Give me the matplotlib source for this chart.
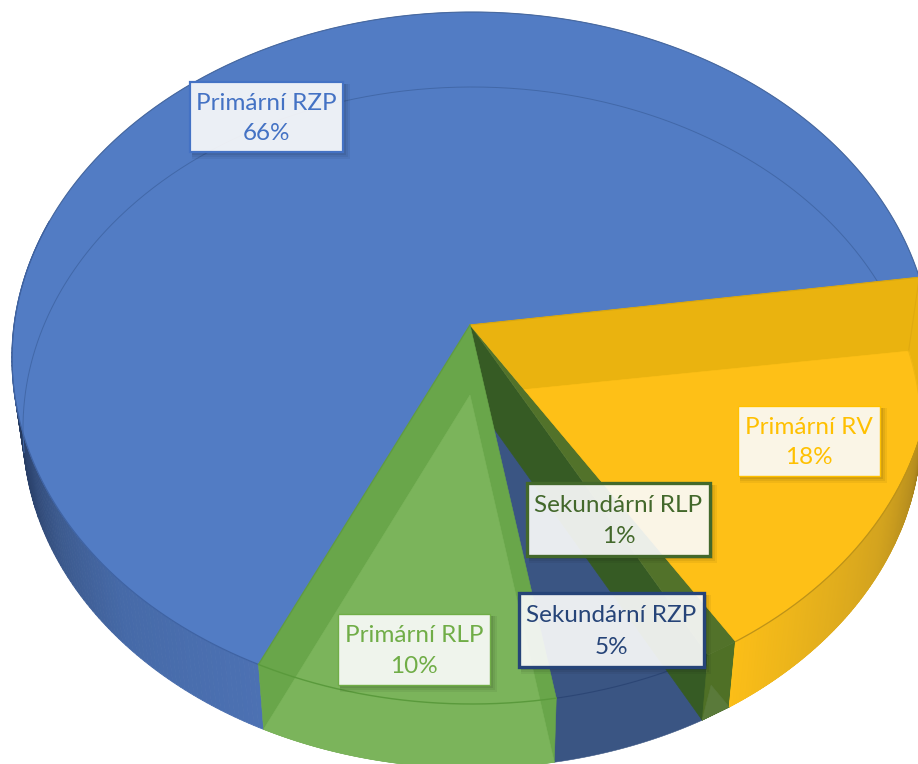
import numpy as np
import matplotlib
matplotlib.use("Agg")
import matplotlib.pyplot as plt
from matplotlib.patches import Polygon, Rectangle
from matplotlib.colors import to_rgb

# ---- data ----
categories = ["Primární RV", "Sekundární RLP", "Sekundární RZP", "Primární RLP", "Primární RZP"]
values = [18, 1, 5, 10, 66]
label_text = ["18%", "1%", "5%", "10%", "66%"]
text_colors = ["#FFC000", "#43682B", "#264478", "#70AD47", "#4472C4"]
edge_widths = [1.0, 2.4, 2.4, 1.0, 1.6]
boxes = [(738, 406, 880, 476), (527, 483, 710, 556), (519, 593, 704, 667),
         (338, 614, 490, 685), (190, 82, 343, 152)]

# ---- projection of the tilted pie (pixel space) ----
TOP = (472, 358, 460, 346)
BOT = (472, 430, 449, 338)
BACK = (472, 428, 449, 341)
APEX_TOP = (470, 325)
APEX_BOT = (470, 395)
START = 13.5

def angle(f):
    f = np.asarray(f, dtype=float)
    w = 2 * np.pi * f
    return np.radians(START - 360 * f - (0.295 * np.sin(w) + 5.62 * (1 - np.cos(w)) - 1.0 * np.sin(3 * w)))

def rim(f, e):
    t = angle(f)
    return np.column_stack([e[0] + e[2] * np.cos(t), e[1] - e[3] * np.sin(t)])

def arc(f0, f1, e, n=160):
    return rim(np.linspace(f0, f1, n), e)

cum = np.cumsum([0] + values) / 100.0
f_rv, f_slp, f_szp, f_plp = cum[1], cum[2], cum[3], cum[4]

fig = plt.figure(figsize=(9.18, 7.64), dpi=100)
ax = fig.add_axes([0, 0, 1, 1])
ax.set_xlim(0, 918)
ax.set_ylim(764, 0)
ax.axis("off")
plt.rcParams["font.family"] = ["Lato", "DejaVu Sans"]

def poly(pts, color, z, alpha=1.0, lw=0.0, ec=None):
    p = Polygon(pts, closed=True, fc=color, ec=ec if ec else color,
                lw=lw if lw else 0.4, alpha=alpha, zorder=z)
    ax.add_patch(p)
    return p

def gradient_wall(f0, f1, stops, z, n=120):
    fs = np.linspace(f0, f1, n + 1)
    p, q = rim(fs, TOP), rim(fs, BOT)
    xs = [s[0] for s in stops]
    cols = np.array([to_rgb(s[1]) for s in stops])
    for i in range(n):
        fm = (fs[i] + fs[i + 1]) / 2
        c = [np.interp(fm, xs, cols[:, k]) for k in range(3)]
        poly([p[i], p[i + 1], q[i + 1], q[i]], c, z, lw=0.6, ec=c)

# blue slice
gradient_wall(f_plp, f_plp + 0.23,
              [(f_plp, "#4C71B3"), (f_plp + 0.06, "#466AA8"), (f_plp + 0.10, "#3C5A8E"),
               (f_plp + 0.13, "#2E4672"), (f_plp + 0.17, "#223658"), (f_plp + 0.23, "#1E3050")], 1)
poly(np.vstack([[APEX_TOP], arc(f_plp, 1.0, TOP, 400)]), "#527CC4", 2)
ax.plot(*arc(f_plp + 0.14, 1.0, TOP, 300).T, color="#3E5E92", lw=0.8, zorder=3, alpha=0.8)
ax.plot(*arc(f_plp, f_plp + 0.23, TOP, 200).T, color="#3F63A3", lw=0.9, zorder=3)
ax.plot(*arc(f_plp + 0.155, 1.0, BACK, 300).T, color="#4268A8", lw=0.7, zorder=3)

# secondary RZP (navy)
poly(np.vstack([[APEX_TOP], rim([f_slp], BOT), arc(f_slp, f_szp, BOT)]), "#3A5583", 4)
ax.plot(*arc(f_slp, f_szp, TOP).T, color="#2C4675", lw=0.8, zorder=5)

# secondary RLP (dark green)
poly([APEX_TOP, rim([f_slp], TOP)[0], rim([f_slp], BOT)[0], APEX_BOT], "#365B24", 6)
poly(np.vstack([[APEX_TOP], rim([f_rv], BOT), rim([f_slp], BOT)]), "#365B24", 6)
poly(np.vstack([rim([f_rv], TOP), rim([f_rv], BOT), rim([f_slp], BOT), rim([f_slp], TOP)]), "#4F7026", 7)
poly(np.vstack([[APEX_TOP], arc(f_rv, f_slp, TOP, 10)]), "#52722A", 7)
inner_tip = np.array(APEX_BOT) + 0.93 * (rim([f_rv], BOT)[0] - np.array(APEX_BOT))
poly(np.vstack([rim([f_rv], BOT), rim([f_slp], BOT), [inner_tip]]), "#5A7A3A", 7)

# primary RV (yellow)
yellow_hull = np.vstack([[APEX_TOP], arc(0, 0.03, TOP, 30), arc(0.03, f_rv, BOT), rim([f_rv], TOP)])
poly(yellow_hull, "#EAB30F", 8)
face = poly(np.vstack([[APEX_BOT], arc(0, f_rv, BOT)]), "#FEC017", 9)
face.set_clip_path(Polygon(yellow_hull, closed=True, transform=ax.transData))
gradient_wall(0.035, f_rv,
              [(0.035, "#4E3C10"), (0.05, "#8A6A18"), (0.075, "#B48C1E"), (0.11, "#D3A31F"),
               (0.15, "#E8B21C"), (f_rv, "#FBBE18")], 10)
ax.plot(*arc(0.035, f_rv, TOP).T, color="#BE9318", lw=0.9, zorder=11)
ax.plot(*np.vstack([rim([0.0], TOP), rim([0.0], BOT)]).T, color="#E0AA10", lw=0.8, zorder=11)
ax.plot(*arc(0.0, 0.05, BOT, 40).T, color="#EFB614", lw=0.8, zorder=11)
ax.plot(*np.vstack([[APEX_TOP], rim([0.0], TOP)]).T, color="#D8A60E", lw=0.8, zorder=11)

# primary RLP (green)
green_hull = np.vstack([[APEX_TOP], rim([f_plp], TOP), arc(f_plp, f_szp, BOT), rim([f_szp], TOP)])
poly(green_hull, "#69A64A", 12)
poly(np.vstack([[APEX_BOT], arc(f_szp, f_plp, BOT)]), "#7BB45B", 13)
ax.plot(*arc(f_szp, f_plp, TOP).T, color="#5A9A3C", lw=1.0, zorder=14)
ax.plot(*np.vstack([[APEX_TOP], rim([f_plp], TOP)]).T, color="#5F9A42", lw=0.9, zorder=14)

# data labels
for name, pct, col, lw, (x0, y0, x1, y1) in zip(categories, label_text, text_colors, edge_widths, boxes):
    for d, a in ((7, 0.05), (5, 0.06), (3, 0.08)):
        ax.add_patch(Rectangle((x0 + 2, y0 + 2), x1 - x0 + d - 2, y1 - y0 + d - 2,
                               fc="black", ec="none", alpha=a, zorder=20))
    ax.add_patch(Rectangle((x0, y0), x1 - x0, y1 - y0, fc="white", alpha=0.9, ec="none", zorder=21))
    ax.add_patch(Rectangle((x0, y0), x1 - x0, y1 - y0, fc="none", ec=col, lw=lw, zorder=22))
    xc, yc = (x0 + x1) / 2, (y0 + y1) / 2
    ax.text(xc, yc - 14, name, color=col, fontsize=17.5, ha="center", va="center", zorder=23)
    ax.text(xc, yc + 17, pct, color=col, fontsize=17.5, ha="center", va="center", zorder=23)

fig.savefig("out.png", dpi=100, facecolor="white")
